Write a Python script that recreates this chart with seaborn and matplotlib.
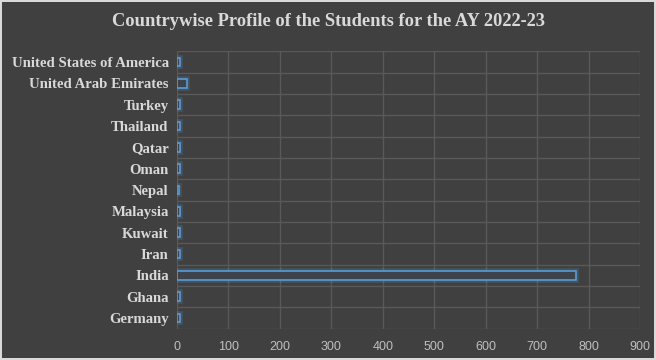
import matplotlib
matplotlib.use("Agg")
import matplotlib.pyplot as plt
import matplotlib.patheffects as pe
from matplotlib.ticker import FixedLocator
import seaborn as sns
import pandas as pd

countries = ["United States of America", "United Arab Emirates", "Turkey", "Thailand",
             "Qatar", "Oman", "Nepal", "Malaysia", "Kuwait", "Iran", "India", "Ghana", "Germany"]
students = [5, 20, 5, 5, 5, 5, 3, 5, 5, 5, 775, 5, 5]
x_ticks = [0, 100, 200, 300, 400, 500, 600, 700, 800, 900]

df = pd.DataFrame({"Country": countries, "Students": students})

sns.set_theme(style="dark")
BG = "#404040"
fig = plt.figure(figsize=(6.56, 3.6), dpi=100, facecolor=BG)
fig.patch.set_edgecolor("#d9d9d9")
fig.patch.set_linewidth(1.5)
ax = fig.add_axes([177/656, 1-328.7/360, (640-177)/656, (328.7-51.3)/360])
ax.set_facecolor(BG)

sns.barplot(data=df, x="Students", y="Country", orient="h", ax=ax, width=0.4,
            color=BG, edgecolor="#5b9bd5", linewidth=1.2, saturation=1)
for p in ax.patches:
    p.set_facecolor("#3d434b")
    p.set_path_effects([pe.Stroke(linewidth=4, foreground="#5b9bd5", alpha=0.22), pe.Normal()])

ax.set_xlim(0, 900)
ax.set_ylim(len(countries)-0.5, -0.5)
ax.xaxis.set_major_locator(FixedLocator(x_ticks))
ax.yaxis.set_minor_locator(FixedLocator([i + 0.5 for i in range(-1, len(countries))]))
ax.grid(True, which="major", axis="x", color="#595959", linewidth=1)
ax.grid(True, which="minor", axis="y", color="#595959", linewidth=1)
ax.set_axisbelow(True)
for s in ax.spines.values():
    s.set_visible(False)
ax.tick_params(axis="both", which="both", length=0)
ax.set_xlabel("")
ax.set_ylabel("")
ax.set_xticks(x_ticks)
ax.set_xticklabels([str(t) for t in x_ticks], color="#bfbfbf", fontsize=9,
                   family="Liberation Sans")
ax.tick_params(axis="x", pad=9)
ax.tick_params(axis="y", pad=6)
for lab in ax.get_yticklabels():
    lab.set_family("Liberation Serif")
    lab.set_fontweight("bold")
    lab.set_fontsize(10.6)
    lab.set_color("#d9d9d9")

fig.text(0.5, 1-22/360, "Countrywise Profile of the Students for the AY 2022-23",
         ha="center", va="center", color="#d9d9d9", fontsize=13.3,
         family="Liberation Serif", fontweight="bold")

fig.savefig("out.png", dpi=100, facecolor=BG, edgecolor="#d9d9d9")
